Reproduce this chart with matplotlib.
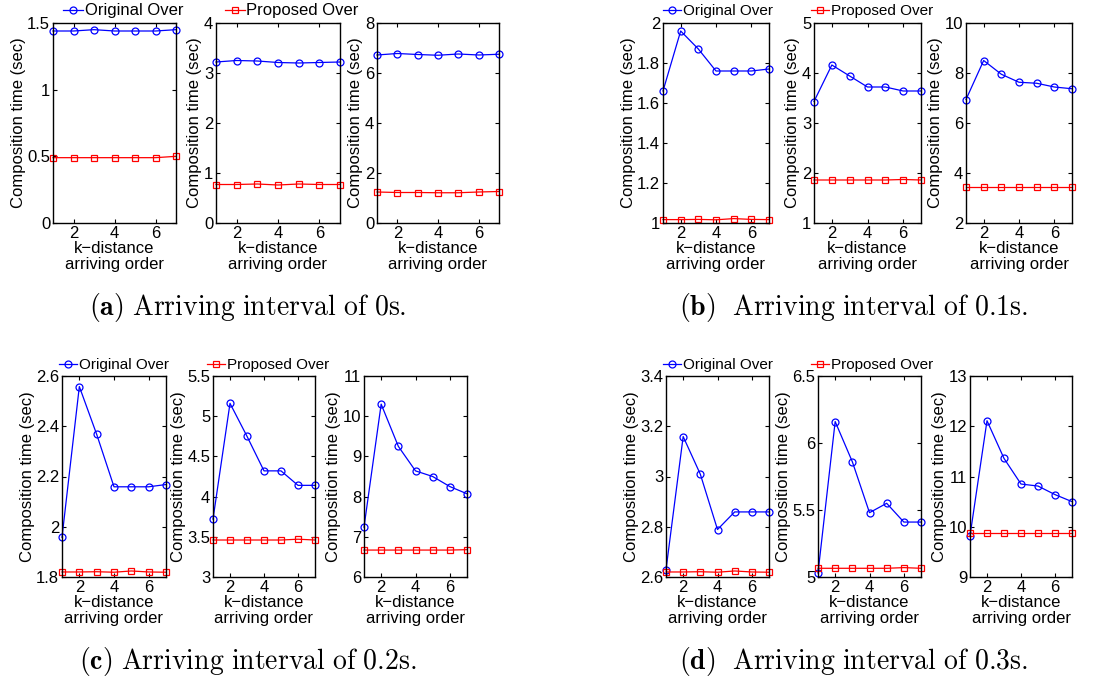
import numpy as np
import matplotlib
matplotlib.use('Agg')
import matplotlib.pyplot as plt
from matplotlib.ticker import FormatStrFormatter

plt.rcParams['font.family'] = ['Liberation Sans', 'DejaVu Sans']
plt.rcParams['mathtext.fontset'] = 'cm'

## Data: k-distance arriving order on x, composition time (sec) on y
k_order = [1, 2, 3, 4, 5, 6, 7]

# (a) interval 0s
orig_a = [[1.44, 1.44, 1.45, 1.44, 1.44, 1.44, 1.45],
          [3.22, 3.25, 3.24, 3.21, 3.20, 3.21, 3.22],
          [6.72, 6.78, 6.74, 6.71, 6.76, 6.72, 6.75]]
prop_a = [[0.49, 0.49, 0.49, 0.49, 0.49, 0.49, 0.50],
          [0.77, 0.77, 0.78, 0.76, 0.78, 0.77, 0.77],
          [1.24, 1.22, 1.22, 1.21, 1.21, 1.24, 1.26]]
# (b) interval 0.1s
orig_b = [[1.66, 1.96, 1.87, 1.76, 1.76, 1.76, 1.77],
          [3.43, 4.16, 3.94, 3.72, 3.72, 3.64, 3.64],
          [6.94, 8.50, 7.95, 7.63, 7.59, 7.44, 7.37]]
prop_b = [[1.017, 1.017, 1.018, 1.016, 1.022, 1.018, 1.017],
          [1.86, 1.86, 1.86, 1.86, 1.86, 1.87, 1.86],
          [3.46, 3.46, 3.46, 3.46, 3.46, 3.46, 3.46]]
# (c) interval 0.2s
orig_c = [[1.958, 2.558, 2.368, 2.159, 2.159, 2.159, 2.168],
          [3.72, 5.16, 4.75, 4.32, 4.32, 4.14, 4.14],
          [7.24, 10.30, 9.25, 8.64, 8.50, 8.25, 8.07]]
prop_c = [[1.820, 1.820, 1.821, 1.819, 1.824, 1.820, 1.819],
          [3.46, 3.46, 3.46, 3.46, 3.46, 3.47, 3.46],
          [6.67, 6.67, 6.67, 6.67, 6.67, 6.67, 6.68]]
# (d) interval 0.3s
orig_d = [[2.629, 3.159, 3.009, 2.789, 2.859, 2.859, 2.859],
          [5.03, 6.16, 5.86, 5.48, 5.55, 5.41, 5.41],
          [9.82, 12.11, 11.36, 10.85, 10.81, 10.64, 10.50]]
prop_d = [[2.620, 2.620, 2.621, 2.619, 2.624, 2.620, 2.619],
          [5.065, 5.065, 5.065, 5.065, 5.065, 5.07, 5.065],
          [9.87, 9.87, 9.87, 9.87, 9.87, 9.87, 9.87]]

# y limits and ticks for each small axes
ylims = [[(0, 1.5, 0.5), (0, 4, 1), (0, 8, 2)],
         [(1, 2, 0.2), (1, 5, 1), (2, 10, 2)],
         [(1.8, 2.6, 0.2), (3, 5.5, 0.5), (6, 11, 1)],
         [(2.6, 3.4, 0.2), (5, 6.5, 0.5), (9, 13, 1)]]

captions = [r'$\mathbf{(a)}\ \mathrm{Arriving\ interval\ of\ 0s.}$',
            r'$\mathbf{(b)}\ \ \mathrm{Arriving\ interval\ of\ 0.1s.}$',
            r'$\mathbf{(c)}\ \mathrm{Arriving\ interval\ of\ 0.2s.}$',
            r'$\mathbf{(d)}\ \ \mathrm{Arriving\ interval\ of\ 0.3s.}$']

## Layout (pixels in the 1118x683 figure)
W, H = 1118.0, 683.0
row_tb = [(23, 223), (23, 223), (376, 577), (376, 577)]
col_lr = [[(53, 176), (216, 340), (377, 499)],
          [(663, 769), (814, 921), (966, 1072)],
          [(62, 166), (213, 315), (364, 467)],
          [(666, 769), (818, 921), (970, 1072)]]
legend_xy = [(63, 11), (663, 11), (59, 365), (663, 365)]
legend_fs = [12, 11, 11, 11]
caption_xy = [(248, 307), (853, 307), (248, 662), (853, 662)]

fig = plt.figure(figsize=(11.18, 6.83), dpi=100)

origs = [orig_a, orig_b, orig_c, orig_d]
props = [prop_a, prop_b, prop_c, prop_d]

for p in range(4):
    top, bot = row_tb[p]
    handles = []
    for i in range(3):
        l, r = col_lr[p][i]
        ax = fig.add_axes([l / W, 1 - bot / H, (r - l) / W, (bot - top) / H])
        h1, = ax.plot(k_order, origs[p][i], '-o', color='#0000ff', lw=0.9,
                      markersize=5, markerfacecolor='none', markeredgewidth=0.9,
                      label='Original Over', clip_on=False)
        h2, = ax.plot(k_order, props[p][i], '-s', color='#ff0000', lw=0.9,
                      markersize=4.5, markerfacecolor='none', markeredgewidth=0.9,
                      label='Proposed Over', clip_on=False)
        if i == 0:
            handles = [h1, h2]
        y0, y1, step = ylims[p][i]
        ax.set_xlim(1, 7)
        ax.set_ylim(y0, y1)
        ax.set_xticks([2, 4, 6])
        ax.set_yticks(np.arange(y0, y1 + step / 2, step))
        ax.yaxis.set_major_formatter(FormatStrFormatter('%g'))
        ax.tick_params(direction='in', top=True, right=True, length=3,
                       labelsize=12, pad=2)
        for s in ax.spines.values():
            s.set_linewidth(1.0)
        ax.set_ylabel('Composition time (sec)', fontsize=12, labelpad=1)
        ax.set_xlabel('k\u2212distance\narriving order', fontsize=12,
                      labelpad=0, linespacing=1.1)

    fig.legend(handles=handles, loc='center left',
               bbox_to_anchor=(legend_xy[p][0] / W, 1 - legend_xy[p][1] / H),
               ncol=2, frameon=False, fontsize=legend_fs[p], handlelength=1.2,
               handletextpad=0.1, columnspacing=2.5, borderaxespad=0,
               borderpad=0)
    fig.text(caption_xy[p][0] / W, 1 - caption_xy[p][1] / H, captions[p],
             ha='center', va='center', fontsize=20)

plt.savefig('out.png', dpi=100)
plt.close()
